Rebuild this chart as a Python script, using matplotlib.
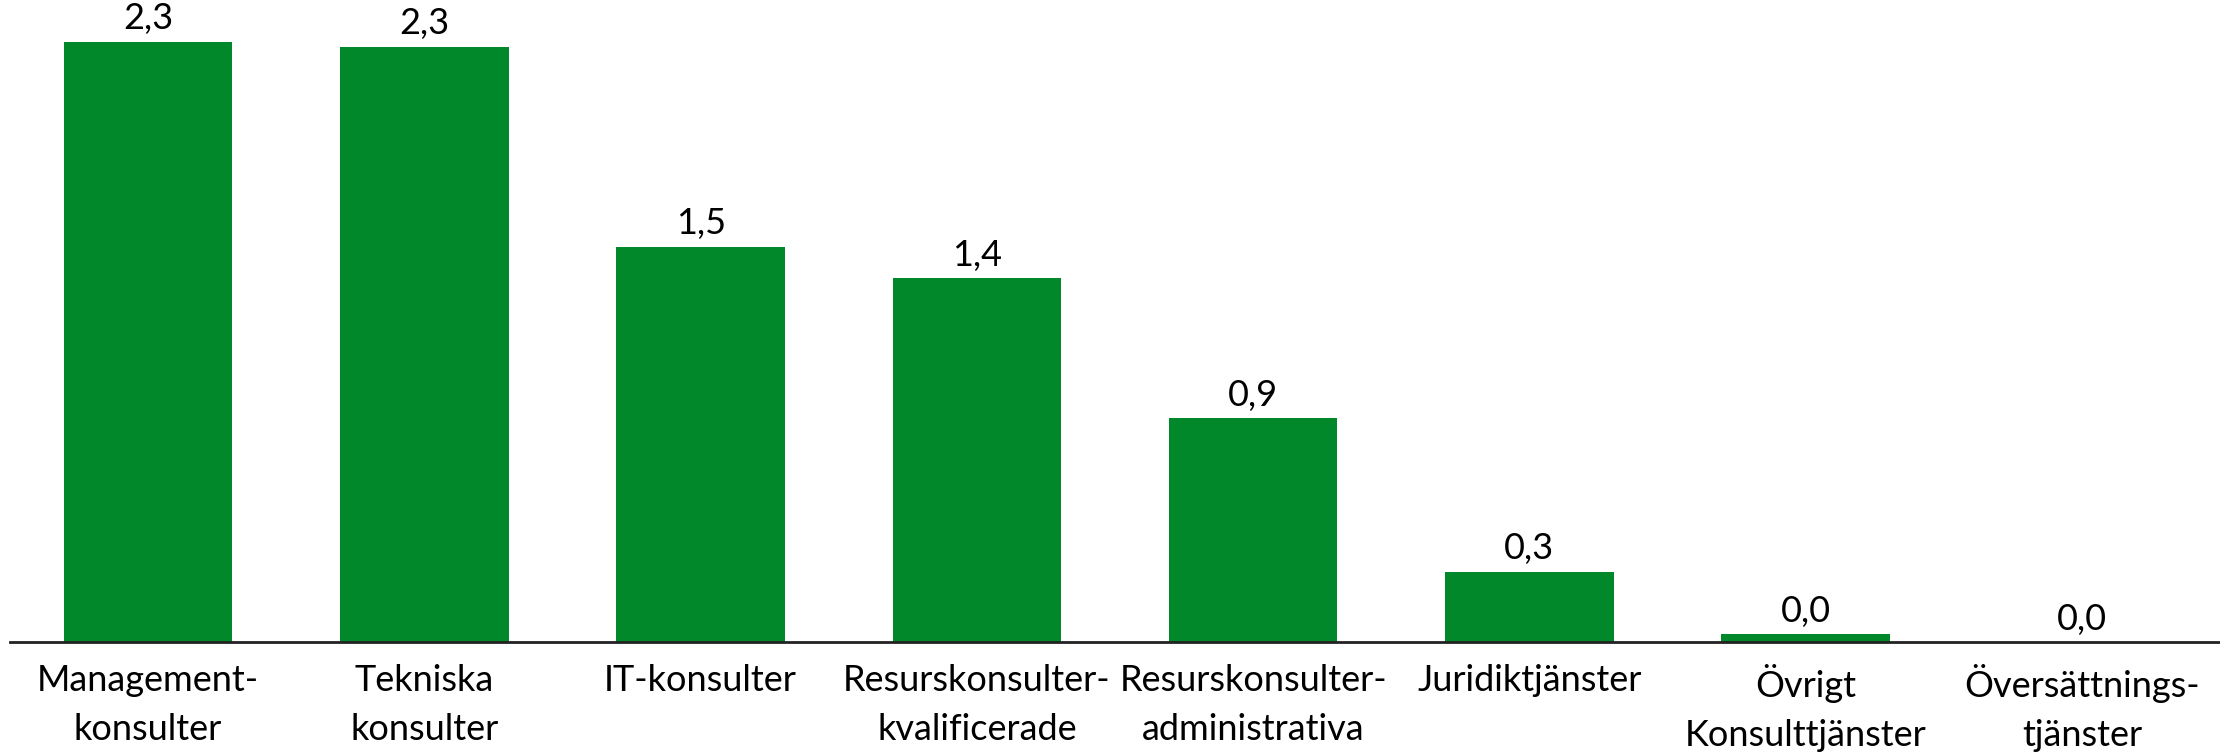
import matplotlib
matplotlib.use("Agg")
import matplotlib.pyplot as plt

# values (mdr kr)
categories = [
    "Management-\nkonsulter",
    "Tekniska\nkonsulter",
    "IT-konsulter",
    "Resurskonsulter-\nkvalificerade",
    "Resurskonsulter-\nadministrativa",
    "Juridiktjänster",
    "Övrigt\nKonsulttjänster",
    "Översättnings-\ntjänster",
]
values = [2.31, 2.29, 1.52, 1.40, 0.86, 0.27, 0.03, 0.0]

green = "#00882B"

plt.rcParams["font.family"] = ["Lato", "DejaVu Sans"]

fig = plt.figure(figsize=(22.2, 7.53), dpi=100)
ax = fig.add_axes([10 / 2220, 111 / 753, 1 - 10 / 2220, 1 - 111 / 753])

x = range(len(categories))
bars = ax.bar(x, values, width=0.61, color=green)

for b, v in zip(bars, values):
    ax.text(b.get_x() + b.get_width() / 2, v + 0.025, f"{v:.1f}".replace(".", ","),
            ha="center", va="bottom", fontsize=26)

ax.set_xlim(-0.5, len(categories) - 0.5)
ax.set_ylim(0, 2.47)
ax.set_xticks(list(x))
ax.set_xticklabels(categories, fontsize=26, linespacing=1.6)
ax.tick_params(axis="x", length=0, pad=16)
ax.set_yticks([])
for s in ["top", "right", "left"]:
    ax.spines[s].set_visible(False)
ax.spines["bottom"].set_linewidth(2)
ax.spines["bottom"].set_color("#222222")

fig.savefig("out.png", dpi=100)
